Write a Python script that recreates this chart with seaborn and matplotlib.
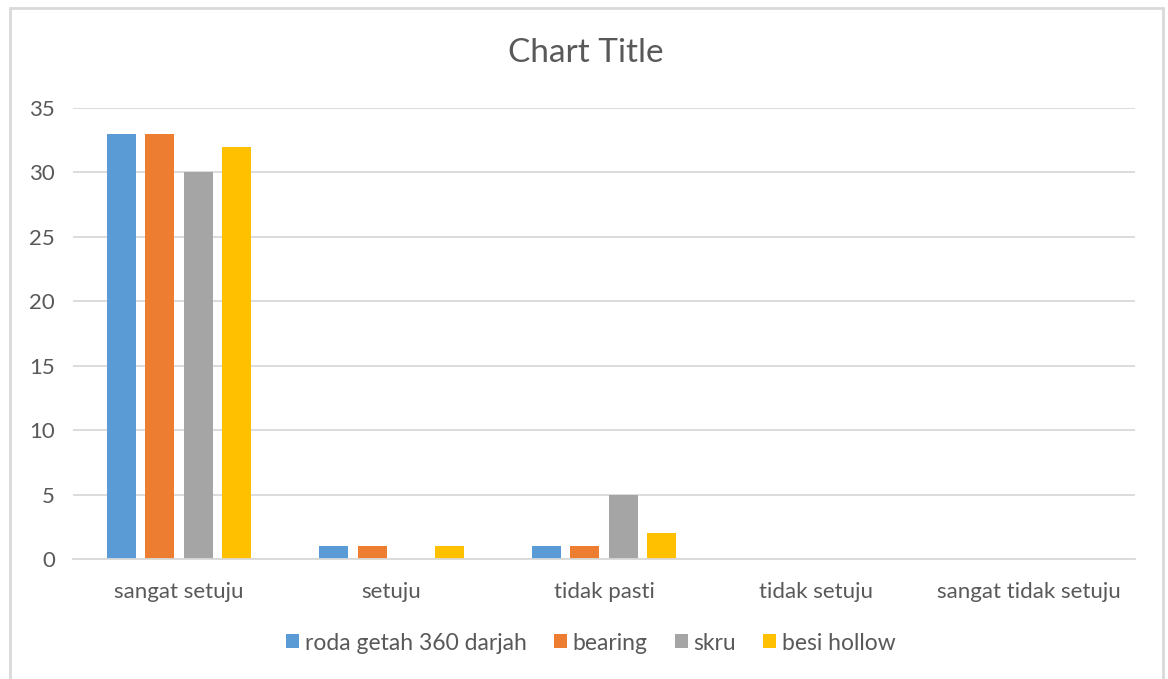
import matplotlib
matplotlib.use("Agg")
import matplotlib.pyplot as plt
import seaborn as sns
import pandas as pd
from matplotlib.lines import Line2D
from matplotlib.patches import Patch

categories = ["sangat setuju", "setuju", "tidak pasti", "tidak setuju", "sangat tidak setuju"]
series = ["roda getah 360 darjah", "bearing", "skru", "besi hollow"]
roda = [33, 1, 1, 0, 0]
bearing = [33, 1, 1, 0, 0]
skru = [30, 0, 5, 0, 0]
besi = [32, 1, 2, 0, 0]
colors = ["#5B9BD5", "#ED7D31", "#A5A5A5", "#FFC000"]

rows = []
for name, vals in zip(series, [roda, bearing, skru, besi]):
    for c, v in zip(categories, vals):
        rows.append({"category": c, "series": name, "value": v})
df = pd.DataFrame(rows)

sns.set_theme(style="white")
plt.rcParams["font.family"] = ["Lato", "DejaVu Sans"]
text_color = "#595959"
grid_color = "#D9D9D9"

fig = plt.figure(figsize=(11.68, 6.79), dpi=100)
ax = fig.add_axes([73/1168, 1-559/679, (1135-73)/1168, (559-108)/679])

sns.barplot(data=df, x="category", y="value", hue="series", order=categories,
            hue_order=series, palette=colors, saturation=1, width=0.725, gap=0.245,
            linewidth=0, ax=ax, legend=False)

ax.set_xlim(-0.5, 4.5)
ax.set_ylim(0, 35)
ax.set_yticks(range(0, 36, 5))
ax.yaxis.grid(True, color=grid_color, linewidth=1.3)
ax.set_axisbelow(True)
for s in ["top", "right", "left"]:
    ax.spines[s].set_visible(False)
ax.spines["bottom"].set_color(grid_color)
ax.spines["bottom"].set_linewidth(1.3)
ax.tick_params(axis="y", length=0, pad=13, labelsize=16, labelcolor=text_color)
ax.tick_params(axis="x", length=0, pad=16.5, labelsize=16, labelcolor=text_color)
ax.set_xlabel("")
ax.set_ylabel("")

fig.text(586/1168, 1-53/679, "Chart Title", ha="center", va="center",
         fontsize=24, color=text_color)

handles = [Patch(facecolor=c, edgecolor="none") for c in colors]
fig.legend(handles, series, loc="center", bbox_to_anchor=(591/1168, 1-643/679),
           ncol=4, frameon=False, fontsize=16.5, labelcolor=text_color,
           handlelength=0.55, handleheight=0.55, handletextpad=0.25, columnspacing=1.2)

# outer frame (top, left, right)
fig.add_artist(Line2D([10/1168, 1163/1168], [1-8/679, 1-8/679], color=grid_color, linewidth=2))
fig.add_artist(Line2D([10/1168, 10/1168], [0, 1-8/679], color=grid_color, linewidth=2))
fig.add_artist(Line2D([1163/1168, 1163/1168], [0, 1-8/679], color=grid_color, linewidth=2))

fig.savefig("out.png", dpi=100, facecolor="white")
